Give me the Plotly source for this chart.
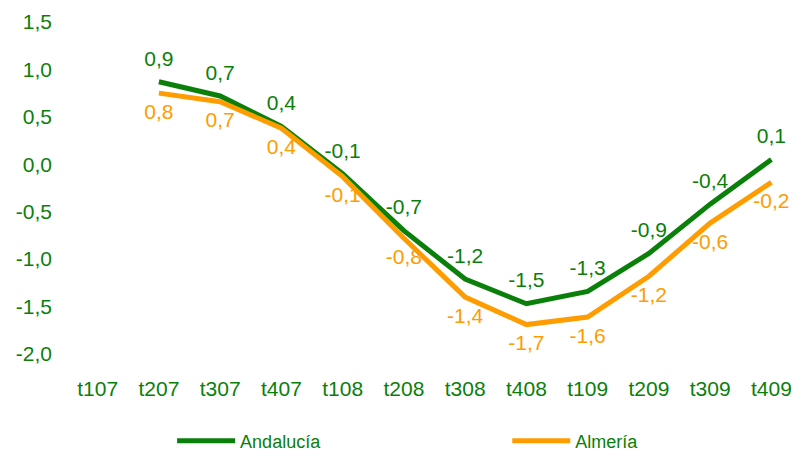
import plotly.graph_objects as go

categories = ["t107", "t207", "t307", "t407", "t108", "t208", "t308", "t408", "t109", "t209", "t309", "t409"]
andalucia = [None, 0.87, 0.72, 0.40, -0.10, -0.70, -1.21, -1.47, -1.34, -0.94, -0.42, 0.05]
almeria = [None, 0.75, 0.66, 0.38, -0.13, -0.78, -1.40, -1.69, -1.61, -1.18, -0.62, -0.19]
y_ticks = [1.5, 1.0, 0.5, 0.0, -0.5, -1.0, -1.5, -2.0]

GREEN = "#0a800a"
ORANGE = "#ff9c00"
FONT = "Liberation Sans, Arial, sans-serif"


def fmt(v):
    return "" if v is None else f"{v:.1f}".replace(".", ",")


fig = go.Figure()
fig.add_trace(go.Scatter(
    x=categories, y=andalucia, name="Andalucía", mode="lines+markers+text",
    line=dict(color=GREEN, width=5),
    marker=dict(size=16, color="rgba(0,0,0,0)"),
    text=[fmt(v) for v in andalucia], textposition="top center",
    textfont=dict(color=GREEN, size=21, family=FONT),
    legend="legend",
))
fig.add_trace(go.Scatter(
    x=categories, y=almeria, name="Almería", mode="lines+markers+text",
    line=dict(color=ORANGE, width=5),
    marker=dict(size=14, color="rgba(0,0,0,0)"),
    text=[fmt(v) for v in almeria], textposition="bottom center",
    textfont=dict(color=ORANGE, size=21, family=FONT),
    legend="legend2",
))

legend_common = dict(
    orientation="h", xanchor="left", y=-0.262, yanchor="middle",
    font=dict(size=18, color=GREEN, family=FONT),
    itemwidth=58, bgcolor="rgba(0,0,0,0)",
)

fig.update_layout(
    width=794, height=446,
    margin=dict(l=59, r=0, t=14, b=100, autoexpand=False),
    paper_bgcolor="white", plot_bgcolor="white",
    separators=", ",
    font=dict(family=FONT, color=GREEN, size=21),
    showlegend=True,
    legend=dict(x=0.143, **legend_common),
    legend2=dict(x=0.599, **legend_common),
    xaxis=dict(
        type="category", range=[-0.5, 11.5], showgrid=False, showline=False,
        zeroline=False, ticks="", ticklabelstandoff=20,
        tickfont=dict(size=21, color=GREEN, family=FONT),
    ),
    yaxis=dict(
        range=[-2.0, 1.5], tickvals=y_ticks,
        ticktext=[fmt(v) for v in y_ticks],
        showgrid=False, showline=False, zeroline=False, ticks="",
        ticklabelstandoff=14,
        tickfont=dict(size=21, color=GREEN, family=FONT),
    ),
)

fig.write_html("out.html")
